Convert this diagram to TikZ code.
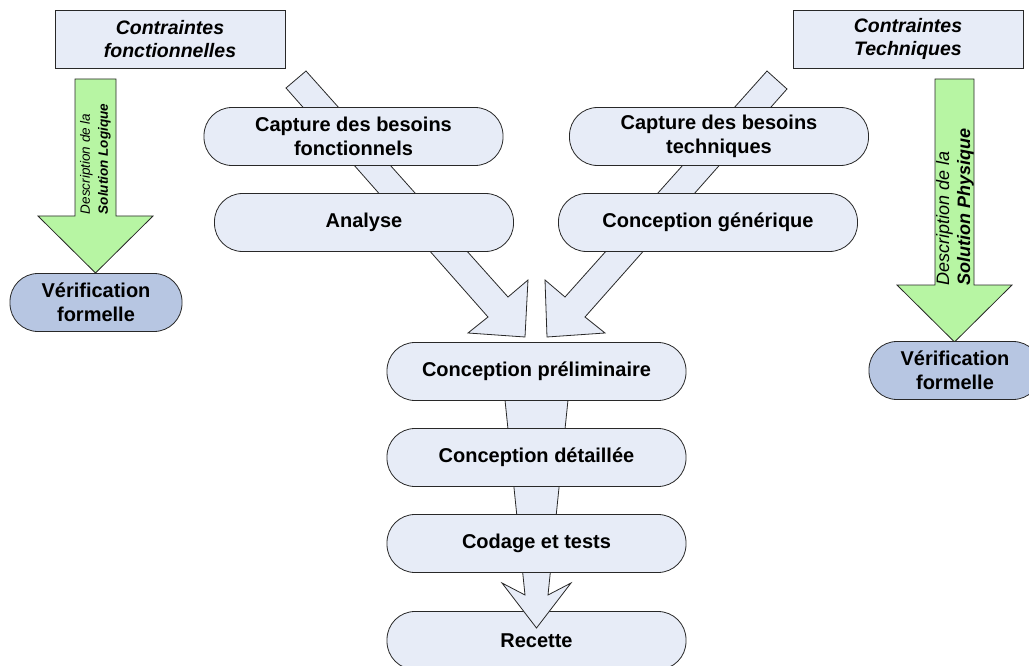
\documentclass[tikz,border=0pt]{standalone}
\usepackage{fontspec}
\setmainfont{Liberation Sans}
\usetikzlibrary{calc}

\definecolor{fondbleu}{RGB}{231,236,247}
\definecolor{fondverif}{RGB}{183,198,226}
\definecolor{fondvert}{RGB}{183,245,163}
\definecolor{trait}{RGB}{40,40,40}

\begin{document}
\begin{tikzpicture}[x=1pt, y=-1pt, line width=0.8pt, node distance=86pt]
\tikzstyle{etape}=[draw=trait, fill=fondbleu, rounded corners=28pt, minimum width=299pt, minimum height=58pt, align=center, font=\bfseries\fontsize{20}{24.5}\selectfont]
\tikzstyle{verif}=[etape, fill=fondverif, minimum width=172pt, minimum height=58pt]
\tikzstyle{contrainte}=[draw=trait, fill=fondbleu, minimum width=230pt, minimum height=58pt, align=center, font=\bfseries\itshape\fontsize{19.5}{23}\selectfont]
\tikzstyle{fleche}=[draw=trait, fill=fondbleu]
\tikzstyle{flecheverte}=[draw=trait, fill=fondvert]
\tikzstyle{texteverte}=[rotate=90, align=left, inner sep=0pt]
\useasboundingbox (0,0) rectangle (1029,666);

% fleches de la branche gauche et de la branche droite
\draw[fleche] (306,71) -- (508,297) -- (528,280) -- (525,337) -- (468,333) -- (488,317) -- (286,88) -- cycle;
\draw[fleche] (767,71) -- (565,297) -- (545,280) -- (547,337) -- (605,333) -- (585,317) -- (787,89) -- cycle;

\node[etape]    (cbf)  at (353.5,136.5) {Capture des besoins\\fonctionnels};
\node[etape]    (ana)  at (364,222.5)   {Analyse};
\node[etape]    (cbt)  at (719,136.5)   {Capture des besoins\\techniques};
\node[etape]    (gen)  at (708,222.5)   {Conception générique};

% contraintes et verifications
\node[contrainte] (cf) at (170,39) {Contraintes\\fonctionnelles};
\node[contrainte] (ct) at (908,39) {Contraintes\\Techniques};
\draw[flecheverte] (75,79) -- (116,79) -- (116,216) -- (153,216) -- (95.5,273) -- (38,216) -- (75,216) -- cycle;
\draw[flecheverte] (935,79) -- (974,79) -- (974,285) -- (1012,285) -- (954.5,342) -- (897,285) -- (935,285) -- cycle;
\node[texteverte, font=\fontsize{13.5}{18}\selectfont] (sl) at (95.5,159)
    {\textit{Description de la}\\\textbf{\textit{Solution Logique}}};
\node[texteverte, font=\fontsize{18}{21}\selectfont] (sp) at (955,207)
    {\textit{Description de la}\\\textbf{\textit{Solution Physique}}};
\node[verif]    (vl)   at (96,302.5)    {Vérification\\formelle};
\node[verif]    (vp)   at (955,370.5)   {Vérification\\formelle};

% branche centrale
\node[etape]    (rec)  at (536.5,640.5) {Recette};
\draw[fleche] (501,360) -- (505,400) -- (525,595) -- (502,583) -- (536.5,628) -- (571,583) -- (548,595) -- (568,400) -- (572,360) -- cycle;
\node[etape]    (pre)  at (536.5,371.5) {Conception préliminaire};
\node[etape]    (det)  [below of=pre]   {Conception détaillée};
\node[etape]    (cod)  [below of=det]   {Codage et tests};
\end{tikzpicture}
\end{document}
